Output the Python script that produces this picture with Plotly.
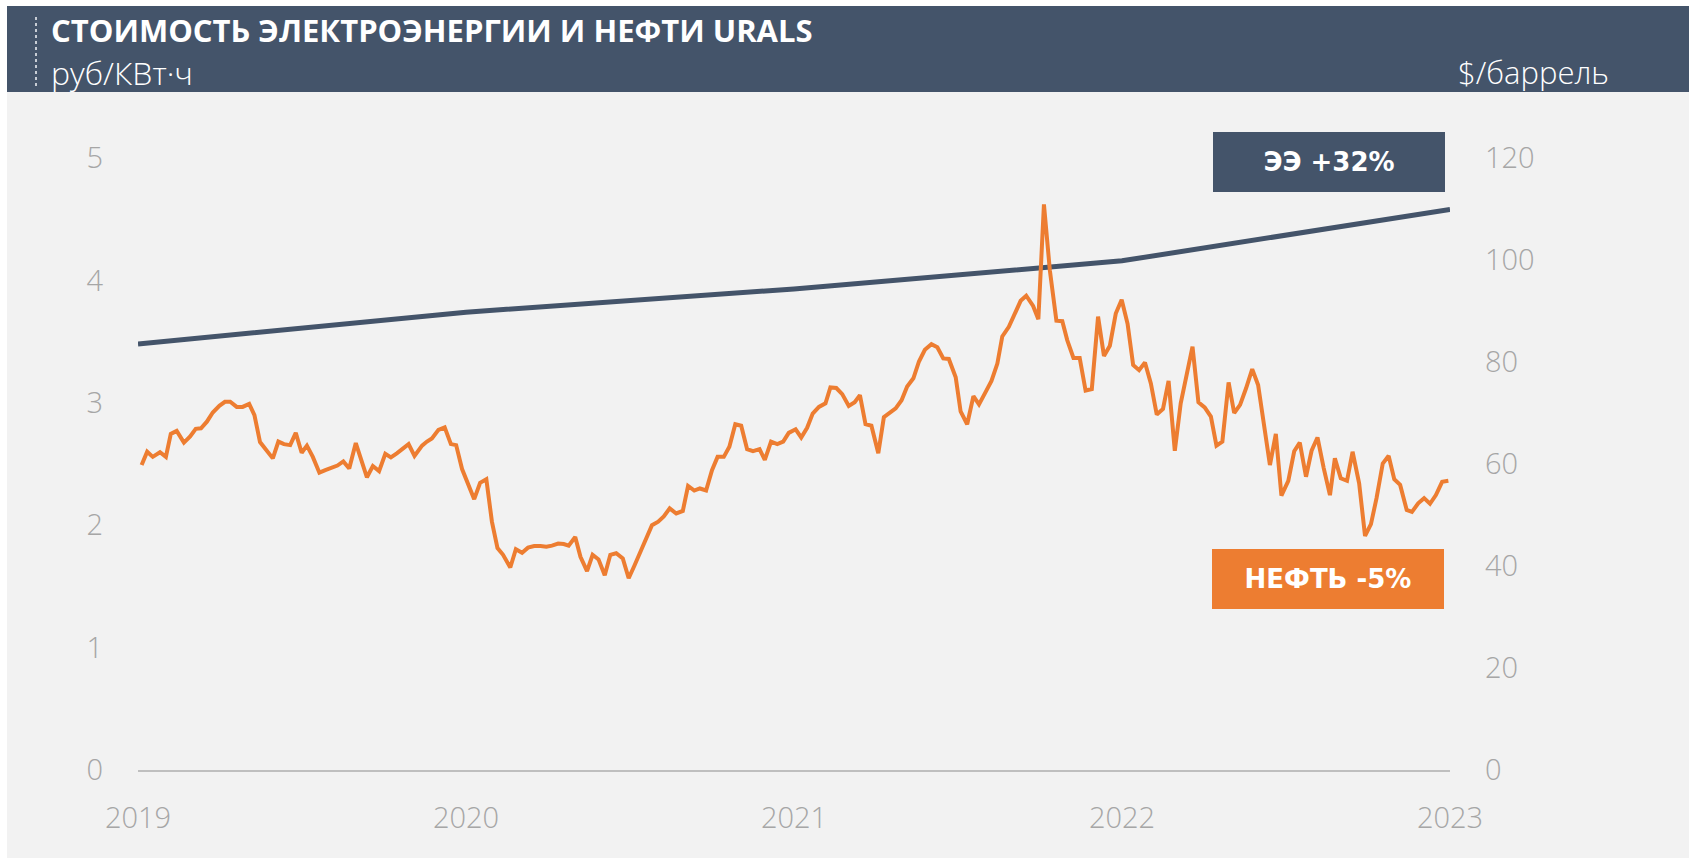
import plotly.graph_objects as go

# ---------------- data ----------------
ee_years = [2019, 2020, 2021, 2022, 2023]
ee_rub_kwh = [3.48, 3.74, 3.93, 4.16, 4.58]

oil_t = [
    2019.011, 2019.028, 2019.045, 2019.067, 2019.085, 2019.100, 2019.118, 2019.140, 2019.159, 2019.176,
    2019.192, 2019.210, 2019.228, 2019.248, 2019.265, 2019.281, 2019.301, 2019.319, 2019.339, 2019.355,
    2019.372, 2019.393, 2019.411, 2019.428, 2019.445, 2019.464, 2019.481, 2019.499, 2019.515, 2019.533,
    2019.553, 2019.571, 2019.589, 2019.608, 2019.626, 2019.644, 2019.664, 2019.680, 2019.698, 2019.716,
    2019.735, 2019.754, 2019.771, 2019.789, 2019.808, 2019.825, 2019.843, 2019.866, 2019.881, 2019.896,
    2019.916, 2019.935, 2019.954, 2019.970, 2019.988, 2020.005, 2020.025, 2020.043, 2020.062, 2020.079,
    2020.096, 2020.113, 2020.135, 2020.152, 2020.171, 2020.189, 2020.208, 2020.227, 2020.245, 2020.262,
    2020.281, 2020.298, 2020.313, 2020.333, 2020.349, 2020.369, 2020.386, 2020.404, 2020.423, 2020.440,
    2020.458, 2020.478, 2020.496, 2020.513, 2020.532, 2020.550, 2020.567, 2020.586, 2020.603, 2020.621,
    2020.641, 2020.661, 2020.677, 2020.696, 2020.713, 2020.732, 2020.750, 2020.767, 2020.786, 2020.803,
    2020.821, 2020.839, 2020.857, 2020.875, 2020.895, 2020.911, 2020.930, 2020.949, 2020.967, 2020.984,
    2021.005, 2021.022, 2021.040, 2021.057, 2021.076, 2021.096, 2021.111, 2021.129, 2021.147, 2021.167,
    2021.185, 2021.201, 2021.218, 2021.236, 2021.257, 2021.274, 2021.292, 2021.310, 2021.328, 2021.345,
    2021.364, 2021.381, 2021.399, 2021.419, 2021.437, 2021.455, 2021.472, 2021.493, 2021.508, 2021.528,
    2021.547, 2021.564, 2021.584, 2021.602, 2021.620, 2021.635, 2021.655, 2021.673, 2021.691, 2021.708,
    2021.729, 2021.745, 2021.762, 2021.780, 2021.800, 2021.818, 2021.833, 2021.852, 2021.871, 2021.889,
    2021.908, 2021.927, 2021.945, 2021.963, 2021.981, 2021.999, 2022.017, 2022.034, 2022.052, 2022.070,
    2022.088, 2022.106, 2022.125, 2022.142, 2022.161, 2022.179, 2022.197, 2022.215, 2022.233, 2022.252,
    2022.271, 2022.288, 2022.306, 2022.325, 2022.342, 2022.360, 2022.378, 2022.397, 2022.415, 2022.433,
    2022.451, 2022.469, 2022.486, 2022.507, 2022.525, 2022.542, 2022.561, 2022.578, 2022.596, 2022.615,
    2022.634, 2022.649, 2022.667, 2022.686, 2022.703, 2022.723, 2022.741, 2022.759, 2022.776, 2022.795,
    2022.813, 2022.830, 2022.848, 2022.868, 2022.884, 2022.903, 2022.921, 2022.939, 2022.957, 2022.976,
    2022.995,
]
oil_usd_bbl = [
    59.8, 62.4, 61.4, 62.3, 61.4, 65.9, 66.5, 64.2, 65.4, 66.9,
    67.0, 68.3, 70.1, 71.4, 72.2, 72.2, 71.2, 71.2, 71.8, 69.6,
    64.3, 62.6, 61.1, 64.4, 63.9, 63.7, 66.1, 62.2, 63.6, 61.4,
    58.3, 58.8, 59.2, 59.7, 60.5, 59.1, 64.1, 61.1, 57.4, 59.6,
    58.6, 62.0, 61.3, 62.1, 63.1, 63.9, 61.6, 63.6, 64.4, 65.0,
    66.7, 67.2, 63.9, 63.7, 59.0, 56.2, 53.1, 56.3, 57.0, 48.7,
    43.5, 42.2, 39.7, 43.3, 42.6, 43.6, 43.9, 43.9, 43.8, 44.0,
    44.4, 44.3, 44.0, 45.7, 41.8, 39.0, 42.2, 41.3, 38.2, 42.2,
    42.5, 41.5, 37.6, 40.0, 42.8, 45.4, 48.0, 48.7, 49.7, 51.3,
    50.3, 50.8, 55.7, 54.8, 55.2, 54.8, 58.8, 61.4, 61.4, 63.4,
    67.8, 67.5, 62.9, 62.5, 62.9, 60.8, 64.4, 63.9, 64.4, 66.1,
    66.8, 65.2, 67.1, 69.9, 71.2, 71.9, 75.0, 74.9, 73.7, 71.4,
    72.1, 73.5, 67.8, 67.5, 62.1, 69.2, 70.1, 70.9, 72.5, 75.2,
    76.8, 80.1, 82.4, 83.5, 82.9, 80.7, 80.6, 77.0, 70.3, 67.8,
    73.3, 71.7, 74.1, 76.3, 79.7, 85.0, 86.9, 89.5, 92.0, 93.0,
    91.0, 88.4, 110.9, 98.0, 88.1, 88.0, 84.3, 80.8, 80.8, 74.4,
    74.7, 88.9, 81.2, 83.2, 89.5, 92.2, 87.5, 79.4, 78.4, 79.9,
    75.8, 69.7, 70.8, 76.3, 62.6, 71.9, 77.1, 83.0, 72.1, 71.1,
    69.3, 63.6, 64.4, 76.0, 70.0, 71.6, 74.8, 78.6, 75.5, 67.0,
    59.8, 65.9, 53.8, 56.7, 62.5, 64.2, 57.5, 62.6, 65.2, 59.2,
    53.9, 61.1, 57.2, 56.7, 62.4, 56.2, 45.9, 48.2, 53.3, 60.1,
    61.6, 57.0, 55.9, 51.0, 50.6, 52.3, 53.3, 52.2, 53.9, 56.5,
    56.7,
]

x_tick_vals = [2019, 2020, 2021, 2022, 2023]
x_tick_text = ["2019", "2020", "2021", "2022", "2023"]
left_ticks = [0, 1, 2, 3, 4, 5]
right_ticks = [0, 20, 40, 60, 80, 100, 120]

title_text = "СТОИМОСТЬ ЭЛЕКТРОЭНЕРГИИ И НЕФТИ URALS"
left_unit = "руб/КВт·ч"
right_unit = "$/баррель"
ee_label = "ЭЭ +32%"
oil_label = "НЕФТЬ -5%"

# ---------------- style ----------------
DARK = "#44546A"
ORANGE = "#ED7D31"
PANEL = "#F2F2F2"
TICK = "#A6A6A6"
W, H = 1689, 858
L, R, T, B = 138, 239, 158, 88
PW, PH = W - L - R, H - T - B


def px(xp):
    return (xp - L) / PW


def py(yp):
    return (H - B - yp) / PH


tick_font = dict(family="Open Sans", size=29, color=TICK, weight=300)

fig = go.Figure()
fig.add_trace(go.Scatter(
    x=ee_years, y=ee_rub_kwh, mode="lines", yaxis="y",
    line=dict(color=DARK, width=5), hoverinfo="skip", showlegend=False,
))
fig.add_trace(go.Scatter(
    x=oil_t, y=oil_usd_bbl, mode="lines", yaxis="y2",
    line=dict(color=ORANGE, width=4), hoverinfo="skip", showlegend=False,
))

shapes = [
    # grey panel
    dict(type="rect", xref="paper", yref="paper", x0=px(7), x1=px(W + 5), y0=py(92), y1=py(H + 5),
         fillcolor=PANEL, line=dict(width=0), layer="below"),
    # header band
    dict(type="rect", xref="paper", yref="paper", x0=px(7), x1=px(W + 5), y0=py(6), y1=py(92),
         fillcolor=DARK, line=dict(width=0), layer="below"),
    # dotted marker in header
    dict(type="line", xref="paper", yref="paper", x0=px(36), x1=px(36), y0=py(17), y1=py(88),
         line=dict(color="#C8CDD5", width=2, dash="dot")),
]

annotations = [
    dict(text=f"<b>{title_text}</b>", xref="paper", yref="paper", x=px(49), y=py(29.5),
         xanchor="left", yanchor="middle", showarrow=False,
         font=dict(family="Open Sans", size=31, color="white")),
    dict(text=left_unit, xref="paper", yref="paper", x=px(49), y=py(72),
         xanchor="left", yanchor="middle", showarrow=False,
         font=dict(family="Open Sans", size=32, color="white", weight=300)),
    dict(text=right_unit, xref="paper", yref="paper", x=px(1611), y=py(72),
         xanchor="right", yanchor="middle", showarrow=False,
         font=dict(family="Open Sans", size=31, color="white", weight=300)),
    dict(text=f"<b>{ee_label}</b>", xref="paper", yref="paper", x=px(1329), y=py(162),
         xanchor="center", yanchor="middle", showarrow=False, width=232, height=60,
         bgcolor=DARK, borderpad=0, borderwidth=0,
         font=dict(family="DejaVu Sans", size=26, color="white")),
    dict(text=f"<b>{oil_label}</b>", xref="paper", yref="paper", x=px(1328), y=py(579),
         xanchor="center", yanchor="middle", showarrow=False, width=232, height=60,
         bgcolor=ORANGE, borderpad=0, borderwidth=0,
         font=dict(family="DejaVu Sans", size=26, color="white")),
]

fig.update_layout(
    width=W, height=H,
    margin=dict(l=L, r=R, t=T, b=B, pad=0),
    paper_bgcolor="white",
    plot_bgcolor="rgba(0,0,0,0)",
    showlegend=False,
    shapes=shapes,
    annotations=annotations,
    xaxis=dict(range=[2019, 2023], tickvals=x_tick_vals, ticktext=x_tick_text,
               showgrid=False, zeroline=False, showline=True, linecolor="#BFBFBF", linewidth=2,
               ticks="", tickfont=tick_font, ticklabelstandoff=21, fixedrange=True),
    yaxis=dict(range=[0, 5], tickvals=left_ticks, showgrid=False, zeroline=False, showline=False,
               ticks="", tickfont=tick_font, ticklabelstandoff=34, fixedrange=True),
    yaxis2=dict(range=[0, 120], tickvals=right_ticks, overlaying="y", side="right",
                showgrid=False, zeroline=False, showline=False, ticks="",
                tickfont=tick_font, ticklabelstandoff=34, fixedrange=True),
)

fig.write_html("out.html", config={"displayModeBar": False},
               post_script="document.body.style.margin='0';document.body.style.overflow='hidden';")
